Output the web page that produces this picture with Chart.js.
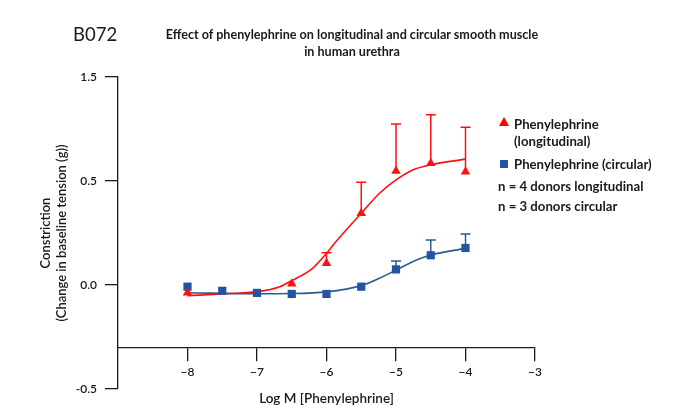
<!DOCTYPE html>
<html>
<head>
<meta charset="utf-8">
<script src="https://cdn.jsdelivr.net/npm/chart.js@4"></script>
<style>
  body { margin: 0; background: #fff; font-family: Lato, 'Noto Sans', sans-serif; color: #1a1a1a; }
  #wrap { position: relative; width: 695px; height: 417px; }
  #wrap canvas { position: absolute; left: 0; top: 0; }
  .t { position: absolute; white-space: nowrap; }
  .code { left: 73px; top: 24px; font-size: 18.5px; line-height: 20px; }
  .title { left: 152px; width: 400px; top: 26px; text-align: center; font-size: 12.6px; line-height: 17px; font-weight: 700; }
  .lg { font-size: 13.2px; line-height: 17px; font-weight: 700; }
  .mk { position: absolute; }
</style>
</head>
<body>
<div id="wrap">
  <canvas id="chart" width="695" height="417"></canvas>
  <div class="t code">B072</div>
  <div class="t title">Effect of phenylephrine on longitudinal and circular smooth muscle<br>in human urethra</div>
  <svg class="mk" style="left:499px;top:117px" width="10" height="9"><polygon points="5,0 10,9 0,9" fill="#ff0000"/></svg>
  <div class="t lg" style="left:514px;top:116px">Phenylephrine<br>(longitudinal)</div>
  <svg class="mk" style="left:500px;top:160px" width="8" height="8"><rect width="8" height="8" fill="#2453a3"/></svg>
  <div class="t lg" style="left:514px;top:156px">Phenylephrine (circular)</div>
  <div class="t lg" style="left:498px;top:178px">n = 4 donors longitudinal</div>
  <div class="t lg" style="left:498px;top:198px">n = 3 donors circular</div>
</div>
<script>
// log M phenylephrine, mean change in tension (g), SEM (upper bar only)
const LONG_DOSE = [-8, -6.5, -6, -5.5, -5, -4.5, -4];
const LONG_MEAN = [-0.037, 0.006, 0.104, 0.345, 0.548, 0.585, 0.545];
const LONG_SEM  = [0, 0, 0.051, 0.149, 0.226, 0.234, 0.213];

const CIRC_DOSE = [-8, -7.5, -7, -6.5, -6, -5.5, -5, -4.5, -4];
const CIRC_MEAN = [-0.008, -0.028, -0.038, -0.043, -0.043, -0.008, 0.075, 0.143, 0.178];
const CIRC_SEM  = [0, 0, 0, 0, 0, 0, 0.040, 0.073, 0.067];

// fitted curves
const LONG_FIT_X = [-8, -7.5, -7, -6.67, -6.5, -6.2, -6, -5.86, -5.5, -5.24, -5, -4.76, -4.5, -4];
const LONG_FIT_Y = [-0.051, -0.043, -0.032, -0.008, 0.021, 0.080, 0.152, 0.210, 0.345, 0.44, 0.505, 0.553, 0.578, 0.605];
const CIRC_FIT_X = [-8, -7, -6.5, -6, -5.5, -5.24, -5, -4.76, -4.5, -4];
const CIRC_FIT_Y = [-0.037, -0.042, -0.041, -0.033, -0.003, 0.032, 0.072, 0.112, 0.144, 0.176];

const X_TICKS = [-8, -7, -6, -5, -4, -3];
const Y_TICKS = [-0.5, 0, 0.5, 1.0];
const Y_TICK_LABELS = ['-0.5', '0.0', '0.5', '1.5'];

const RED  = '#ff1010';
const BLUE = '#2453a3';
const BLUE_LINE = '#2d5b8e';
const AXIS = '#1a1a1a';

const pts = (xs, ys) => xs.map((x, i) => ({ x, y: ys[i] }));

// dataset index -> sem + colour
const ERRS = [
  { ds: 2, sem: LONG_SEM, color: RED },
  { ds: 3, sem: CIRC_SEM, color: BLUE_LINE },
];

const errorBars = {
  id: 'errorBars',
  beforeDatasetsDraw(chart) {
    const { ctx, scales: { x, y } } = chart;
    ctx.save();
    ctx.lineWidth = 1.5;
    ERRS.forEach(e => {
      ctx.strokeStyle = e.color;
      chart.data.datasets[e.ds].data.forEach((p, i) => {
        if (!e.sem[i]) return;
        const px = x.getPixelForValue(p.x);
        const y0 = y.getPixelForValue(p.y);
        const y1 = y.getPixelForValue(p.y + e.sem[i]);
        ctx.beginPath();
        ctx.moveTo(px, y0); ctx.lineTo(px, y1);
        ctx.moveTo(px - 5, y1); ctx.lineTo(px + 5, y1);
        ctx.stroke();
      });
    });
    ctx.restore();
  }
};

const tickFont = { family: 'Lato, "Noto Sans", sans-serif', size: 12, weight: '600' };

new Chart(document.getElementById('chart'), {
  type: 'scatter',
  data: {
    datasets: [
      { data: pts(LONG_FIT_X, LONG_FIT_Y), showLine: true, borderColor: RED, borderWidth: 1.6,
        pointRadius: 0, cubicInterpolationMode: 'monotone', order: 3 },
      { data: pts(CIRC_FIT_X, CIRC_FIT_Y), showLine: true, borderColor: BLUE_LINE, borderWidth: 1.6,
        pointRadius: 0, cubicInterpolationMode: 'monotone', order: 4 },
      { data: pts(LONG_DOSE, LONG_MEAN), pointStyle: 'triangle', pointRadius: 5.5,
        backgroundColor: RED, borderColor: RED, borderWidth: 0, order: 1 },
      { data: pts(CIRC_DOSE, CIRC_MEAN), pointStyle: 'rect', pointRadius: 5.8,
        backgroundColor: BLUE, borderColor: BLUE, borderWidth: 0, order: 2 },
    ],
  },
  options: {
    responsive: false,
    animation: false,
    clip: false,
    // the x axis sits at y = -0.3, so it takes no layout room; padding fixes the plot box
    layout: { padding: { top: 77, right: 160, left: 0, bottom: 28 } },
    plugins: { legend: { display: false }, tooltip: { enabled: false } },
    scales: {
      x: {
        type: 'linear', min: -9, max: -3,
        position: { y: -0.3 },
        afterBuildTicks: s => { s.ticks = X_TICKS.map(v => ({ value: v })); },
        afterFit: s => { s.height = 28; },
        grid: { drawOnChartArea: false, tickLength: 13, color: AXIS, lineWidth: 1.3 },
        border: { color: AXIS, width: 1.3 },
        ticks: { color: AXIS, font: tickFont, padding: 5, maxRotation: 0,
                 callback: v => '\u2212' + Math.abs(v) },
        title: { display: true, text: 'Log M [Phenylephrine]', color: AXIS,
                 font: { family: tickFont.family, size: 13.5, weight: '600' },
                 padding: { top: 0, bottom: -31 } },
      },
      y: {
        type: 'linear', min: -0.5, max: 1.0,
        position: 'left',
        afterBuildTicks: s => { s.ticks = Y_TICKS.map(v => ({ value: v })); },
        afterFit: s => { s.width = 118; },
        grid: { drawOnChartArea: false, tickLength: 13, color: AXIS, lineWidth: 1.3 },
        border: { color: AXIS, width: 1.3 },
        ticks: { color: AXIS, font: tickFont, padding: 8,
                 callback: (v, i) => Y_TICK_LABELS[i] },
        title: { display: true, text: ['Constriction', '(Change in baseline tension (g))'], color: AXIS,
                 font: { family: tickFont.family, size: 13, weight: '600' }, lineHeight: 1.2,
                 padding: { top: 38, bottom: 0 } },
      },
    },
  },
  plugins: [errorBars],
});
</script>
</body>
</html>
